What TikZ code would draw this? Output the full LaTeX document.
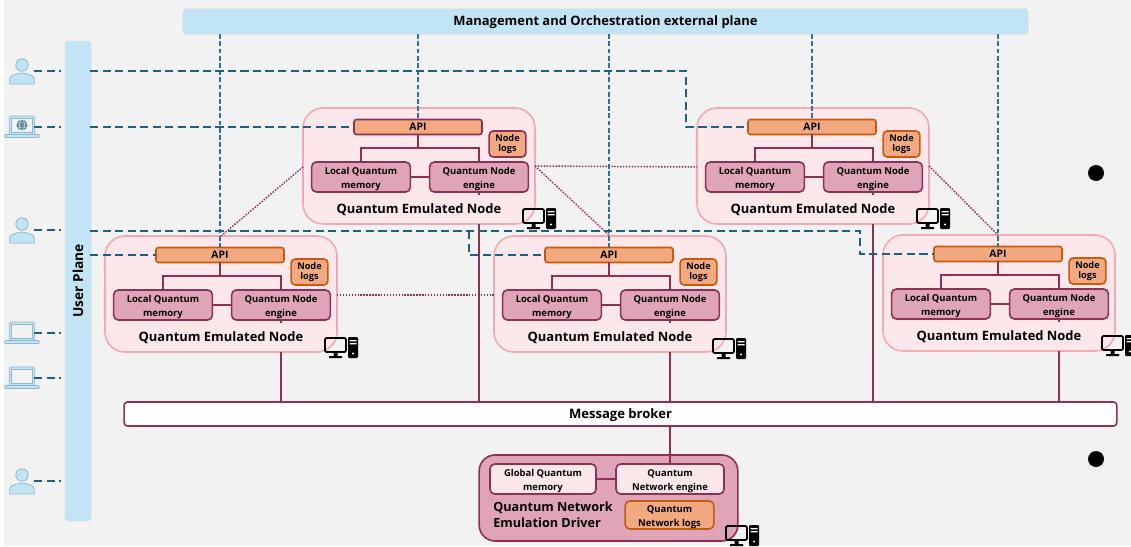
\documentclass[tikz,border=0pt]{standalone}
\usepackage{fontspec}
\setmainfont{Open Sans}
\definecolor{pagebg}{HTML}{F2F2F2}
\definecolor{planeblue}{HTML}{C1E5F5}
\definecolor{iconedge}{HTML}{8FB8CC}
\definecolor{dashblue}{HTML}{1F5F7A}
\definecolor{mgmtblue}{HTML}{2F7391}
\definecolor{wine}{HTML}{8E2F55}
\definecolor{outerfill}{HTML}{FCE8EA}
\definecolor{outeredge}{HTML}{F2A9B2}
\definecolor{engfill}{HTML}{E0A4B8}
\definecolor{apifill}{HTML}{F3A97F}
\definecolor{apiedge}{HTML}{C55A11}
\newcommand{\up}[1]{\rule{0pt}{#1pt}}
\tikzset{
 outerbox/.style={draw=outeredge,fill=outerfill,line width=1.2pt,rounded corners=15pt,minimum width=174pt,minimum height=87pt,inner sep=0pt,outer sep=0pt},
 apibox/.style={fill=apifill,line width=1.2pt,rounded corners=1.8pt,minimum width=96pt,minimum height=11.2pt,inner sep=0pt,outer sep=0pt,font=\bfseries\fontsize{7.8}{9}\selectfont},
 logbox/.style={fill=apifill,line width=1.2pt,rounded corners=3pt,minimum width=27.5pt,minimum height=19.5pt,inner sep=0pt,outer sep=0pt,align=center,font=\bfseries\fontsize{6.9}{9}\selectfont},
 engbox/.style={draw=wine,fill=engfill,line width=1.2pt,rounded corners=3.5pt,minimum width=74pt,minimum height=22.5pt,inner sep=0pt,outer sep=0pt,align=center,font=\bfseries\fontsize{7.1}{10}\selectfont},
 titletext/.style={inner sep=0pt,font=\bfseries\fontsize{9.7}{12}\selectfont},
 drvbox/.style={draw=wine,fill=outerfill,line width=1.2pt,rounded corners=3.5pt,inner sep=0pt,outer sep=0pt,align=center,font=\bfseries\fontsize{7.1}{10}\selectfont},
 planebar/.style={fill=planeblue,draw=gray!30,line width=.3pt,rounded corners=2.5pt,inner sep=0pt,outer sep=0pt,font=\bfseries\fontsize{9.7}{11}\selectfont},
 usertick/.style={draw=dashblue,line width=1.42pt,dash pattern=on 6.2pt off 3.2pt},
 mgmtline/.style={draw=mgmtblue,line width=1.1pt,dash pattern=on 3.6pt off 1.8pt},
 linkdot/.style={draw=wine,line width=1.1pt,dash pattern=on 1.1pt off 1.1pt},
 busline/.style={draw=wine,line width=1.42pt},
 iconspot/.style={minimum width=26pt,minimum height=17pt,inner sep=0pt,outer sep=0pt},
}
\newcommand{\qcluster}[4]{% name, centre x, centre y, edge colour
 \node[outerbox] (#1-outer) at (#2,#3) {};
 \node[apibox,draw=#4] (#1-api) at (#2-1,#3-39) {API};
 \node[logbox,draw=#4] (#1-logs) at (#2+88.5,#3-22) {Node\\[-1.5pt]logs};
 \node[engbox] (#1-lqm) at (#2-58,#3+11) {\up{8.6}Local Quantum\\memory};
 \node[engbox] (#1-qne) at (#2+60,#3+11) {\up{8.6}Quantum Node\\engine};
 \node[titletext] (#1-title) at (#2,#3+43.5) {Quantum Emulated Node};
 \coordinate (#1-bus) at (#2,#3-18);
 \draw[busline] (#1-api.south) -- (#1-api.south |- #1-bus);
 \draw[busline] (#1-lqm.north) |- (#1-bus) -| (#1-qne.north);
 \draw[busline] (#1-lqm.east) -- (#1-qne.west);
 \draw[busline] (#1-qne.south) -- ++(0,3);
}
\newcommand{\pcicon}[2]{% top-left of monitor
 \begin{scope}[shift={(#1,#2)}]
  \draw[black,line width=1.3pt,rounded corners=1pt] (1,1) rectangle (22,15);
  \fill[black] (9.5,16) rectangle (13.5,19) (5,19) rectangle (18,21);
  \fill[black,rounded corners=.8pt] (24,0) rectangle (34,21);
  \fill[white] (25.5,3) rectangle (32.5,4.3) (25.5,6) rectangle (32.5,7.3);
  \fill[white] (29,16.5) circle (1.2);
 \end{scope}
}
\newcommand{\usericon}[1]{% node name
 \begin{scope}[shift={(#1.center)}]
  \draw[fill=planeblue,draw=iconedge,line width=.6pt] (0,-6) circle (6.2);
  \draw[fill=planeblue,draw=iconedge,line width=.6pt] (-12.3,13) -- (-12.3,8) .. controls (-12.3,4) and (-5,3) .. (0,2) .. controls (5,3) and (12.3,4) .. (12.3,8) -- (12.3,13) -- cycle;
 \end{scope}
}
\newcommand{\laptopicon}[1]{% node name
 \begin{scope}[shift={(#1.center)}]
  \draw[fill=planeblue,draw=iconedge,line width=.6pt,rounded corners=1pt] (-12.7,-11) rectangle (12.7,7.5);
  \draw[fill=pagebg,draw=iconedge,line width=.6pt] (-10.5,-9) rectangle (10.5,5.5);
  \draw[fill=planeblue,draw=iconedge,line width=.6pt,rounded corners=.8pt] (-17.3,7.5) rectangle (17.3,10.5);
 \end{scope}
}
\begin{document}
\begin{tikzpicture}[x=.75pt,y=-.75pt]
\useasboundingbox (0,0) rectangle (1131,546);
\clip (0,0) rectangle (1131,546);
\fill[white] (0,0) rectangle (1131,546);
\fill[pagebg] (4,0) rectangle (1131,546);
% planes
\node[planebar,minimum width=634pt,minimum height=19pt] (mgmt) at (605.5,21.5) {\up{8.8}Management and Orchestration external plane};
\node[planebar,minimum width=19.5pt,minimum height=360pt] (user) at (78,281) {};
\node[inner sep=0pt,rotate=90,font=\bfseries\fontsize{10.3}{11}\selectfont] (usertxt) at (78,281) {User Plane};
% broker
\node[draw=wine,fill=white,line width=1.2pt,rounded corners=2.5pt,minimum width=744.5pt,minimum height=18pt,inner sep=0pt,outer sep=0pt,font=\bfseries\fontsize{9.8}{11}\selectfont] (broker) at (620.5,414) {\up{9.6}Message broker};
% clusters
\qcluster{tm}{419}{166}{wine}
\qcluster{tr}{813}{166}{apiedge}
\qcluster{bl}{221}{294}{apiedge}
\qcluster{bm}{610}{294}{apiedge}
\qcluster{br}{999}{293}{apiedge}
% driver
\node[draw=wine,fill=engfill,line width=1.2pt,rounded corners=12pt,minimum width=194pt,minimum height=64.5pt,inner sep=0pt,outer sep=0pt] (drv) at (608.5,498) {};
\node[drvbox,minimum width=79.5pt,minimum height=22.5pt] (gqm) at (543,479) {\up{8.6}Global Quantum\\memory};
\node[drvbox,minimum width=81pt,minimum height=22.5pt] (dqne) at (670,479) {\up{8.6}Quantum\\Network engine};
\node[drvbox,draw=apiedge,fill=apifill,minimum width=66.5pt,minimum height=21pt] (dlogs) at (669.5,515) {\up{8.6}Quantum\\Network logs};
\node[inner sep=0pt,anchor=west,align=left,font=\bfseries\fontsize{9.5}{12.2}\selectfont] (drvtxt) at (493,515) {Quantum Network\\Emulation Driver};
\draw[busline] (gqm.east) -- (dqne.west);
% broker links
\draw[busline] (tm-qne.south |- tm-outer.south) -- (tm-qne.south |- broker.north);
\draw[busline] (tr-qne.south |- tr-outer.south) -- (tr-qne.south |- broker.north);
\draw[busline] (bl-qne.south |- bl-outer.south) -- (bl-qne.south |- broker.north);
\draw[busline] (bm-qne.south |- bm-outer.south) -- (bm-qne.south |- broker.north);
\draw[busline] (br-qne.south |- br-outer.south) -- (br-qne.south |- broker.north);
\draw[busline] (dqne.north) -- (dqne.north |- broker.south);
% dotted links
\coordinate (tmR) at (535,166);
\coordinate (tmL) at (303,167);
\coordinate (trL) at (697,167);
\coordinate (trR) at (929,166);
\coordinate (blT) at (221,236);
\coordinate (bmT) at (610,236);
\coordinate (brT) at (998,235);
\draw[linkdot] (tmL) -- (blT);
\draw[linkdot] (tmR) -- (bmT);
\draw[linkdot] (tmR) -- (trL);
\draw[linkdot] (trR) -- (brT);
\draw[linkdot] ([yshift=-.6pt]bl-outer.east) -- ([yshift=-.6pt]bm-outer.west);
% management lines
\foreach \n in {tm,tr,bl,bm,br}{
 \draw[mgmtline] (\n-api.north |- mgmt.south) -- (\n-api.north);
}
% user icons
\node[iconspot] (u1) at (22,71) {};
\node[iconspot] (u2) at (22,127) {};
\node[iconspot] (u3) at (22,230) {};
\node[iconspot] (u4) at (22,333) {};
\node[iconspot] (u5) at (22,378) {};
\node[iconspot] (u6) at (22,481) {};
\usericon{u1}
\usericon{u3}
\usericon{u6}
\laptopicon{u2}
\laptopicon{u4}
\laptopicon{u5}
\begin{scope}[shift={(u2.center)}]
 \fill[dashblue!75] (0,-2) circle (5.5);
 \draw[pagebg,line width=.3pt] (0,-2) ellipse (2.6 and 5.5) (-5.5,-2) -- (5.5,-2) (-5,-4.5) -- (5,-4.5) (-5,.5) -- (5,.5);
\end{scope}
% user dashes
\foreach \u in {u1,u2,u3,u4,u5,u6}{
 \draw[usertick] ([xshift=-4pt]\u.east) -- ([xshift=-3pt]user.west |- \u);
}
\coordinate (r1a) at (686,71);
\coordinate (r1b) at (686,127);
\coordinate (r3m) at (469,231);
\coordinate (r3n) at (469,255);
\coordinate (r3r) at (860,231);
\coordinate (r3s) at (860,254);
\coordinate (p1) at (90,71);
\coordinate (p2) at (90,127);
\coordinate (p3) at (90,231);
\coordinate (p4) at (90,255);
\draw[usertick] (p1) -- (r1a) -- (r1b) -- (tr-api.west);
\draw[usertick] (p2) -- (tm-api.west);
\draw[usertick] (p3) -- (r3r) -- (r3s) -- (br-api.west);
\draw[usertick] (r3m) -- (r3n) -- (bm-api.west);
\draw[usertick] (p4) -- (bl-api.west);
% computers
\pcicon{522}{208}
\pcicon{916}{208}
\pcicon{324}{337}
\pcicon{712}{338}
\pcicon{1101}{335}
\pcicon{725}{525}
% stray bullets
\fill[black] (1096,173) circle (8);
\fill[black] (1096,459) circle (8);
\end{tikzpicture}
\end{document}
